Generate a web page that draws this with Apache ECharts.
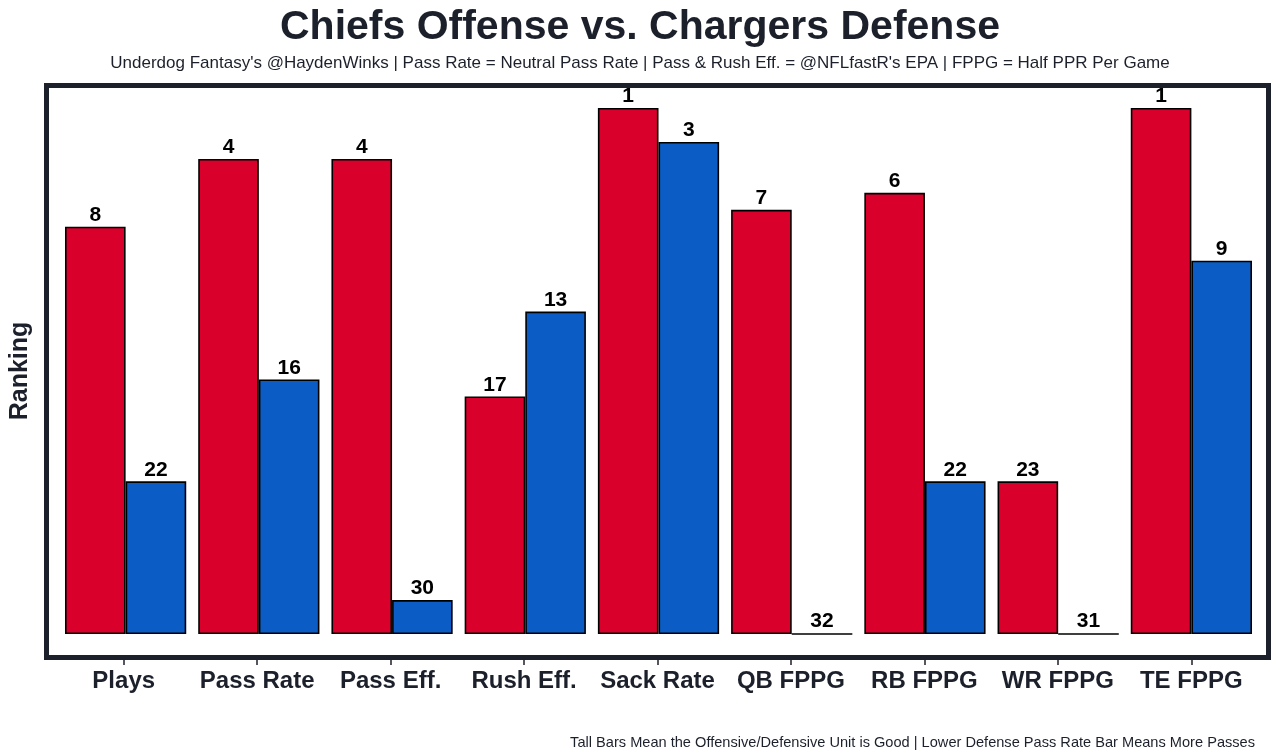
<!DOCTYPE html>
<html>
<head>
<meta charset="utf-8">
<script src="https://cdn.jsdelivr.net/npm/echarts@6/dist/echarts.min.js"></script>
<style>html,body{margin:0;padding:0;background:#fff}#c{width:1280px;height:756px}</style>
</head>
<body>
<div id="c"></div>
<script>
const categories = ['Plays','Pass Rate','Pass Eff.','Rush Eff.','Sack Rate','QB FPPG','RB FPPG','WR FPPG','TE FPPG'];
// bar heights (score units)
const offenseScore = [24, 28, 28, 14, 31, 25, 26, 9, 31];
const defenseScore = [9, 15, 2, 19, 29, 0, 9, 0, 22];
// rank labels
const offenseRank = [8, 4, 4, 17, 1, 7, 6, 23, 1];
const defenseRank = [22, 16, 30, 13, 3, 32, 22, 31, 9];

const dark = '#1c202b';
const FF = 'Liberation Sans, Arial, sans-serif';
const chart = echarts.init(document.getElementById('c'));
const labelCfg = (ranks) => ({
  show: true, position: 'top', distance: 1,
  formatter: p => String(ranks[p.dataIndex]),
  fontFamily: FF, fontWeight: 'bold', fontSize: 21, color: '#000'
});
chart.setOption({
  animation: false,
  backgroundColor: '#fff',
  title: [
    { text: 'Chiefs Offense vs. Chargers Defense', left: 'center', top: 2,
      textStyle: { fontFamily: FF, fontWeight: 'bold', fontSize: 41, color: dark } },
    { text: "Underdog Fantasy's @HaydenWinks | Pass Rate = Neutral Pass Rate | Pass & Rush Eff. = @NFLfastR's EPA | FPPG = Half PPR Per Game",
      left: 'center', top: 50,
      textStyle: { fontFamily: FF, fontWeight: 'normal', fontSize: 17, color: dark } },
    { text: 'Tall Bars Mean the Offensive/Defensive Unit is Good | Lower Defense Pass Rate Bar Means More Passes',
      right: 20, top: 730,
      textStyle: { fontFamily: FF, fontWeight: 'normal', fontSize: 14.6, color: dark } }
  ],
  grid: [
    { left: 57, right: 22, top: 108, bottom: 122 },
    { left: 57, right: 22, top: 108, bottom: 96 }
  ],
  xAxis: [
    { type: 'category', data: categories, gridIndex: 0,
      axisLine: { show: false }, axisTick: { show: false }, axisLabel: { show: false } },
    { type: 'category', data: categories, gridIndex: 1,
      axisLine: { show: false },
      axisTick: { show: true, alignWithLabel: true, length: 5, lineStyle: { color: dark, width: 1.5 } },
      axisLabel: { margin: 9, fontFamily: FF, fontWeight: 'bold', fontSize: 24, color: dark, interval: 0 } }
  ],
  yAxis: [
    { type: 'value', min: 0, max: 31, gridIndex: 0,
      name: 'Ranking', nameLocation: 'middle', nameRotate: 90, nameGap: 26,
      nameTextStyle: { fontFamily: FF, fontWeight: 'bold', fontSize: 25, color: dark },
      axisLine: { show: false }, axisTick: { show: false }, axisLabel: { show: false }, splitLine: { show: false } },
    { type: 'value', min: 0, max: 31, gridIndex: 1, show: false }
  ],
  graphic: [{
    type: 'rect', shape: { x: 46.5, y: 85.5, width: 1222, height: 572 },
    style: { fill: 'none', stroke: dark, lineWidth: 5 }, z: 10
  }],
  series: [
    { name: 'Offense', type: 'bar', data: offenseScore, barGap: '0%', barCategoryGap: '9%',
      itemStyle: { color: '#d9002b', borderColor: '#000', borderWidth: 1.6 }, label: labelCfg(offenseRank) },
    { name: 'Defense', type: 'bar', data: defenseScore,
      itemStyle: { color: '#0b5cc4', borderColor: '#000', borderWidth: 1.6 }, label: labelCfg(defenseRank) }
  ]
});
</script>
</body>
</html>
